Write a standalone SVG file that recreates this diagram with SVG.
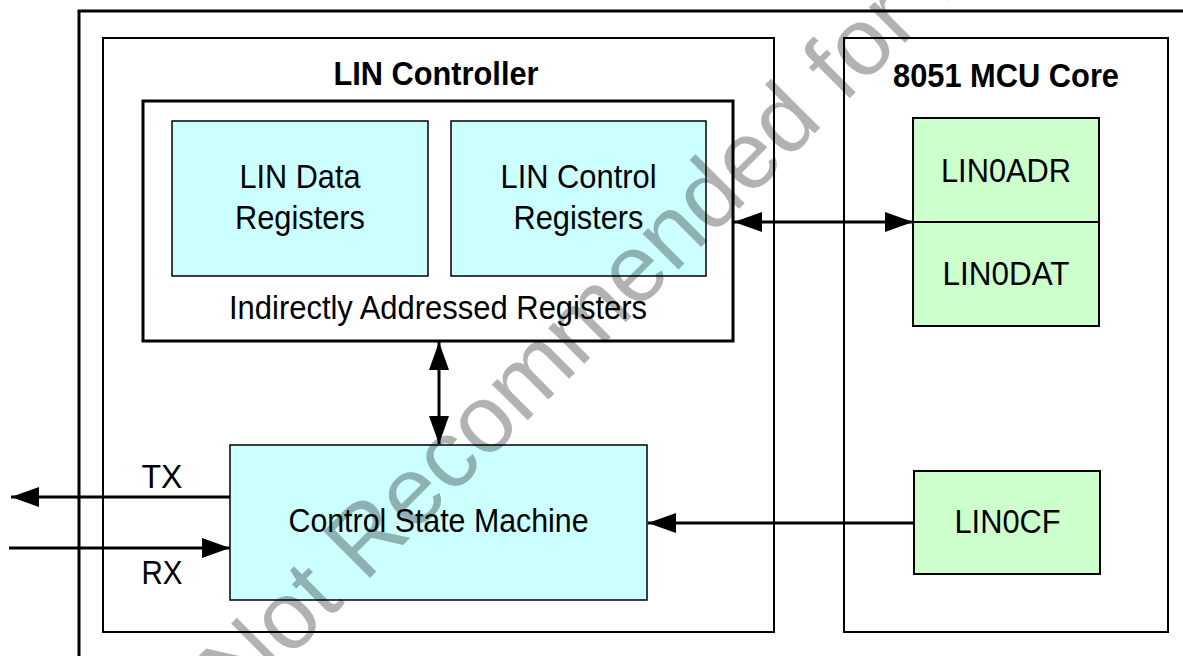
<svg xmlns="http://www.w3.org/2000/svg" width="1183" height="656" viewBox="0 0 1183 656">
<defs>
<style>
.t{font-family:"Liberation Sans",Arial,sans-serif;font-size:34px;fill:#000;text-anchor:middle}
.b{font-weight:bold}
.cy{fill:#CCFFFF;stroke:#000;stroke-width:1.5}
.gr{fill:#CCFFCC;stroke:#000;stroke-width:2}
.frame{fill:none;stroke:#000;stroke-width:2}
.ln{fill:none;stroke:#000;stroke-width:3}
.wm{font-family:"Liberation Sans",Arial,sans-serif;font-size:96px;fill:#000;fill-opacity:0.3}
</style>
<marker id="ah" markerUnits="userSpaceOnUse" markerWidth="28" markerHeight="20" refX="28" refY="10" orient="auto-start-reverse" viewBox="0 0 28 20">
<path d="M0,0 L28,10 L0,20 z" fill="#000"/>
</marker>
</defs>
<rect width="1183" height="656" fill="#fff"/>
<path d="M79,656 V11 H1183" class="ln"/>
<g id="lin-controller">
<rect x="103" y="38" width="671" height="594" class="frame"/>
<text x="436" y="85" class="t b" textLength="205" lengthAdjust="spacingAndGlyphs">LIN Controller</text>
</g>
<g id="mcu-core">
<rect x="844" y="38" width="324" height="594" class="frame"/>
<text x="1006" y="87" class="t b" textLength="226" lengthAdjust="spacingAndGlyphs">8051 MCU Core</text>
</g>
<g id="indirect-registers">
<rect x="143" y="101" width="590" height="240" fill="#fff" stroke="#000" stroke-width="3"/>
<text x="438" y="319" class="t" textLength="418" lengthAdjust="spacingAndGlyphs">Indirectly Addressed Registers</text>
</g>
<g id="lin-data-registers">
<rect x="172" y="121" width="256" height="155" class="cy"/>
<text x="300" y="188" class="t" textLength="121" lengthAdjust="spacingAndGlyphs">LIN Data</text>
<text x="300" y="229" class="t" textLength="130" lengthAdjust="spacingAndGlyphs">Registers</text>
</g>
<g id="lin-control-registers">
<rect x="451" y="121" width="255" height="155" class="cy"/>
<text x="578.5" y="188" class="t" textLength="156" lengthAdjust="spacingAndGlyphs">LIN Control</text>
<text x="578.5" y="229" class="t" textLength="130" lengthAdjust="spacingAndGlyphs">Registers</text>
</g>
<g id="control-state-machine">
<rect x="230" y="445" width="417" height="155" class="cy"/>
<text x="438.5" y="532" class="t" textLength="300" lengthAdjust="spacingAndGlyphs">Control State Machine</text>
</g>
<g id="lin0adr">
<rect x="913" y="118" width="186" height="104" class="gr"/>
<text x="1006" y="182" class="t" textLength="130" lengthAdjust="spacingAndGlyphs">LIN0ADR</text>
</g>
<g id="lin0dat">
<rect x="913" y="222" width="186" height="104" class="gr"/>
<text x="1006" y="285" class="t" textLength="127" lengthAdjust="spacingAndGlyphs">LIN0DAT</text>
</g>
<g id="lin0cf">
<rect x="914" y="471" width="186" height="103" class="gr"/>
<text x="1007.5" y="533" class="t" textLength="106" lengthAdjust="spacingAndGlyphs">LIN0CF</text>
</g>
<g id="connectors">
<line x1="734" y1="222" x2="913" y2="222" class="ln" marker-start="url(#ah)" marker-end="url(#ah)"/>
<line x1="439" y1="342" x2="439" y2="444" class="ln" marker-start="url(#ah)" marker-end="url(#ah)"/>
<line x1="914" y1="523" x2="648" y2="523" class="ln" marker-end="url(#ah)"/>
<line x1="230" y1="497" x2="11" y2="497" class="ln" marker-end="url(#ah)"/>
<line x1="9" y1="548" x2="230" y2="548" class="ln" marker-end="url(#ah)"/>
<text x="162" y="488" class="t" textLength="41" lengthAdjust="spacingAndGlyphs">TX</text>
<text x="162" y="584" class="t" textLength="41" lengthAdjust="spacingAndGlyphs">RX</text>
</g>
<text x="240" y="708" class="wm" transform="rotate(-45 240 708)">Not Recommended for New Designs</text>
</svg>
